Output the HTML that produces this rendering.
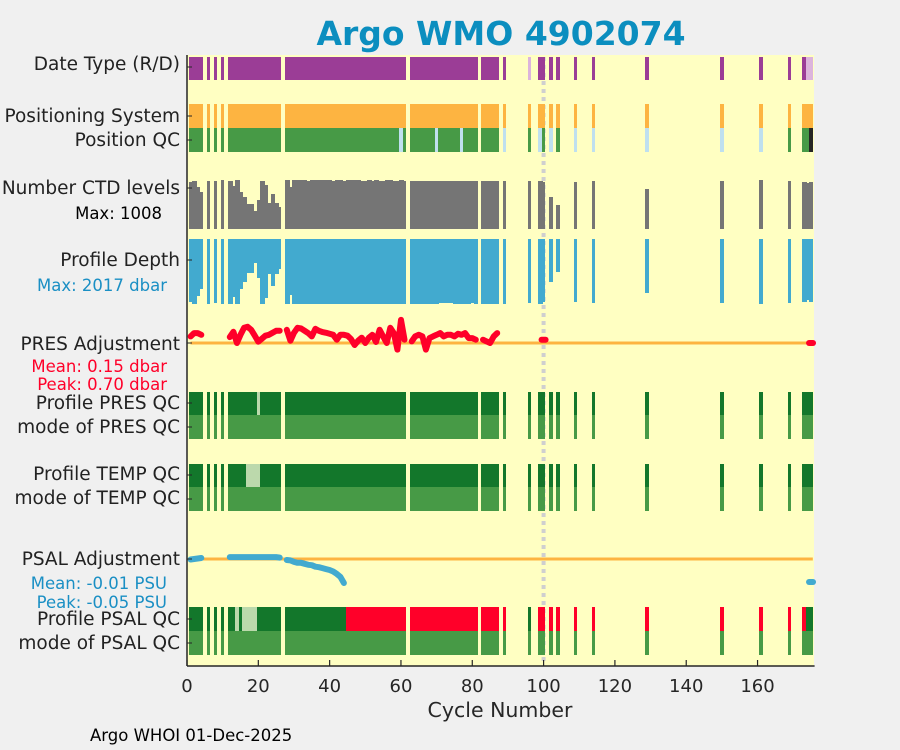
<!DOCTYPE html>
<html><head><meta charset="utf-8"><style>
html,body{margin:0;padding:0;background:#f0f0f0;}
svg{display:block;font-family:"DejaVu Sans","Liberation Sans",sans-serif;}
rect{shape-rendering:crispEdges;}
</style></head><body>
<svg id="chart" width="900" height="750" viewBox="0 0 900 750">
<text x="501" y="45" text-anchor="middle" font-size="33" font-weight="bold" fill="#0b8ebf">Argo WMO 4902074</text>
<rect x="187" y="55" width="627" height="611" fill="#ffffc2"/>
<g id="marks"></g>
<g id="labels" font-size="18.5" fill="#222" text-anchor="end">
<text x="180" y="70">Date Type (R/D)</text>
<text x="180" y="122">Positioning System</text>
<text x="180" y="146">Position QC</text>
<text x="180" y="194">Number CTD levels</text>
<text x="162" y="219" font-size="16.5" fill="#000">Max: 1008</text>
<text x="180" y="266">Profile Depth</text>
<text x="167" y="291" font-size="16.5" fill="#1a8fc4">Max: 2017 dbar</text>
<text x="180" y="350">PRES Adjustment</text>
<text x="167" y="372" font-size="16.5" fill="#ff0029">Mean: 0.15 dbar</text>
<text x="167" y="390" font-size="16.5" fill="#ff0029">Peak: 0.70 dbar</text>
<text x="180" y="409">Profile PRES QC</text>
<text x="180" y="433">mode of PRES QC</text>
<text x="180" y="480">Profile TEMP QC</text>
<text x="180" y="504">mode of TEMP QC</text>
<text x="180" y="565">PSAL Adjustment</text>
<text x="167" y="589" font-size="16.5" fill="#1a8fc4">Mean: -0.01 PSU</text>
<text x="167" y="608" font-size="16.5" fill="#1a8fc4">Peak: -0.05 PSU</text>
<text x="180" y="625">Profile PSAL QC</text>
<text x="180" y="649">mode of PSAL QC</text>
</g>
<g id="axes"></g>
<text x="500" y="717" text-anchor="middle" font-size="20.5" fill="#262626">Cycle Number</text>
<text x="90" y="741" font-size="16.5" fill="#000">Argo WHOI 01-Dec-2025</text>
</svg>
<script>
const cycles=[1,2,3,4,6,8,10,12,13,14,15,16,17,18,19,20,21,22,23,24,25,26,
28,29,30,31,32,33,34,35,36,37,38,39,40,41,42,43,44,45,46,47,48,49,50,51,52,53,54,55,56,57,58,59,60,61,
63,64,65,66,67,68,69,70,71,72,73,74,75,76,77,78,79,80,81,83,84,85,86,87,89,
96,99,100,102,104,109,114,129,150,161,169,173,174,175];
const dateType="DDDDDDDDDDDDDDDDDDDDDDDDDDDDDDDDDDDDDDDDDDDDDDDDDDDDDDDDDDDDDDDDDDDDDDDDDDDDDDDDDRDDDDDDDDDDDRR".split('');
const posQC="1111111111111111111111111111111111111111111111111111118111111118111111811111111181818188888111999".split('');
const presQC="AAAAAAAAAAAAAAABAAAAAAAAAAAAAAAAAAAAAAAAAAAAAAAAAAAAAAAAAAAAAAAAAAAAAAAAAAAAAAAAAAAAAAAAAAAAAAA".split('');
const tempQC="AAAAAAAAAAAABBBBAAAAAAAAAAAAAAAAAAAAAAAAAAAAAAAAAAAAAAAAAAAAAAAAAAAAAAAAAAAAAAAAAAAAAAAAAAAAAAA".split('');
const psalQC="AAAAAAAAABABBBBAAAAAAAAAAAAAAAAAAAAAAAAFFFFFFFFFFFFFFFFFFFFFFFFFFFFFFFFFFFFFFFFFFAFFFFFFFFFFFAA".split('');
const ctdLevels=[967,987,864,761,987,987,1008,987,885,1008,761,658,514,514,370,597,987,905,535,720,535,453,
1008,864,1008,1008,1008,1008,987,1008,1008,1008,1008,1008,1008,987,1008,1008,987,1008,1008,1008,1008,987,987,1008,987,1008,987,987,1008,1008,987,987,1008,987,
987,987,987,987,987,987,987,987,987,987,987,987,987,987,987,987,987,987,987,987,987,987,987,987,987,
987,987,967,658,494,967,987,823,987,1008,987,967,946,967];
const profDepth=[1955,2017,1769,1551,2017,1986,2017,2017,1800,2017,1551,1334,1055,1055,745,1210,2017,1831,1086,1458,1086,931,
2017,1738,2017,2017,2017,2017,2017,2017,2017,2017,2017,2017,2017,2017,2017,2017,2017,2017,2017,2017,2017,2017,2017,2017,2017,2017,2017,2017,2017,2017,2017,2017,2017,2017,
2017,2017,2017,2017,2017,2017,2017,2017,1986,1986,1986,1986,2017,2017,2017,2017,2017,1986,2017,2017,2017,2017,2017,2017,2017,
1986,2017,1955,1334,1024,1955,1986,1676,1986,2017,1986,1955,1893,1955];
const N=null;
const presAdj=[0.2,0.3,0.3,0.25,N,N,N,0.18,0.34,0.0,0.25,0.46,0.49,0.4,0.22,0.04,0.13,0.22,0.25,0.31,0.37,0.37,
0.40,0.07,0.31,0.46,0.44,0.37,0.30,0.20,0.43,0.37,0.33,0.31,0.28,0.25,0.10,0.25,0.25,0.22,0.12,-0.06,0.07,0.16,0.00,0.16,0.25,0.03,0.40,0.20,0.00,0.46,0.30,-0.20,0.70,0.10,
0.05,0.2,0.25,0.2,-0.2,0.15,0.2,0.25,0.3,0.2,0.25,0.25,0.2,0.28,0.25,0.3,0.15,0.15,0.1,0.1,0.05,0.0,0.2,0.3,N,
N,N,0.1,N,N,N,N,N,N,N,N,N,N,0.0];
const psalAdj=[-0.001,0.0,0.001,0.002,N,N,N,0.004,0.004,0.004,0.004,0.004,0.004,0.004,0.004,0.004,0.004,0.004,0.004,0.004,0.004,0.003,
-0.002,-0.003,-0.006,-0.008,-0.008,-0.01,-0.012,-0.013,-0.016,-0.017,-0.019,-0.021,-0.023,-0.026,-0.031,-0.037,-0.05,N,N,N,N,N,N,N,N,N,N,N,N,N,N,N,N,N,
N,N,N,N,N,N,N,N,N,N,N,N,N,N,N,N,N,N,N,N,N,N,N,N,N,
N,N,N,N,N,N,N,N,N,N,N,N,N,-0.048];
const xTicks=[0,20,40,60,80,100,120,140,160];

const NS="http://www.w3.org/2000/svg";
const X0=187,X1=814.6,XMAX=176;
function X(c){return X0+(c/XMAX)*(X1-X0);}
const BW=(X1-X0)/XMAX;
const marks=document.getElementById('marks');
const axes=document.getElementById('axes');
function mk(tag,attrs,parent){const e=document.createElementNS(NS,tag);for(const k in attrs)e.setAttribute(k,attrs[k]);(parent||marks).appendChild(e);return e;}

const ref=mk('line',{x1:X(100),x2:X(100),y1:57,y2:664,stroke:'#cfcfcf','stroke-width':4,'stroke-dasharray':'4 4'});



function bar(i,c,y0,y1,fill,name){
  const next=cycles[i+1]===c+1;
  const x0=Math.round(X(c-0.5));
  const x1=next?Math.round(X(c+0.5))+1:Math.round(X(c+0.5));
  const r=mk('rect',{x:x0,y:Math.round(y0),width:Math.max(1,x1-x0),height:Math.round(y1)-Math.round(y0),fill:fill});
  
  
}
const qcColor={A:'#13772b',B:'#bcd9ac',F:'#ff0029'};
cycles.forEach((c,i)=>{
  bar(i,c,57,80,dateType[i]==='R'?'#dcb4dc':'#9b3d96','date-type-bar');
  bar(i,c,104,128,'#fdb441','positioning-system-bar');
  bar(i,c,128,152,posQC[i]==='8'?'#bfe0ef':(posQC[i]==='9'?'#252525':'#479a46'),'position-qc-bar');
  bar(i,c,229-ctdLevels[i]/1008*49,229,'#757575','ctd-levels-bar');
  bar(i,c,239,239+profDepth[i]/2017*65,'#42aacf','profile-depth-bar');
  bar(i,c,392,415,qcColor[presQC[i]],'pres-qc-bar');
  bar(i,c,415,439,'#479a46','pres-mode-bar');
  bar(i,c,464,487,qcColor[tempQC[i]],'temp-qc-bar');
  bar(i,c,487,511,'#479a46','temp-mode-bar');
  bar(i,c,607,631,qcColor[psalQC[i]],'psal-qc-bar');
  bar(i,c,631,655,'#479a46','psal-mode-bar');
});
const z1=mk('line',{x1:X(1),x2:X(175.5),y1:343,y2:343,stroke:'#fdb441','stroke-width':3});


const z2=mk('line',{x1:X(1),x2:X(175.5),y1:559,y2:559,stroke:'#fdb441','stroke-width':3});



function series(vals,yf,color,width,name){
  let seg=[];
  const flush=()=>{
    if(!seg.length)return;
    let d;
    if(seg.length===1){const p=seg[0];d=`M${p[0]-2},${p[1]} L${p[0]+2},${p[1]}`;}
    else d='M'+seg.map(p=>p[0].toFixed(1)+','+p[1].toFixed(1)).join(' L');
    const e=mk('path',{d:d,fill:'none',stroke:color,'stroke-width':width,'stroke-linejoin':'round','stroke-linecap':'round'});
    
    
    seg=[];
  };
  cycles.forEach((c,i)=>{
    const v=vals[i];
    if(v===null){flush();return;}
    if(i>0&&cycles[i-1]!==c-1&&seg.length)flush();
    seg.push([X(c),yf(v)]);
  });
  flush();
}
series(presAdj,v=>343-v*33,'#ff0029',6,'pres-adjustment-line');
series(psalAdj,v=>559-v*480,'#42aacf',6,'psal-adjustment-line');

const ya=mk('line',{x1:X0,x2:X0,y1:55,y2:666,stroke:'#262626','stroke-width':1.5},axes);


const xa=mk('line',{x1:X0,x2:X1,y1:666,y2:666,stroke:'#262626','stroke-width':1.5},axes);


[67,116,140,188,260,343,403,427,475,499,559,619,643].forEach(y=>{
  const t=mk('line',{x1:X0,x2:X0+5,y1:y,y2:y,stroke:'#262626','stroke-width':1},axes);
  
  
});
xTicks.forEach(v=>{
  const t=mk('line',{x1:X(v),x2:X(v),y1:666,y2:660,stroke:'#262626','stroke-width':1.2},axes);
  
  
  const l=mk('text',{x:X(v),y:692,'text-anchor':'middle','font-size':18,fill:'#262626'},axes);
  l.textContent=v;
  
  
});
</script>
</body></html>
